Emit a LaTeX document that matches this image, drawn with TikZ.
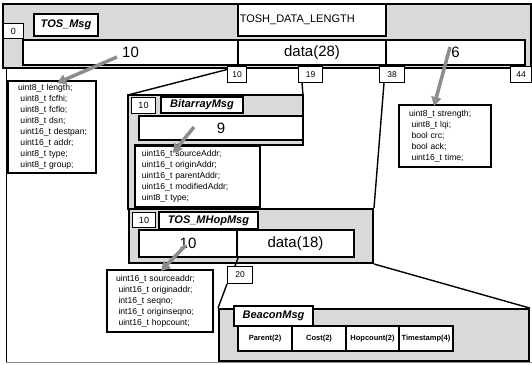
\documentclass[tikz,border=0pt]{standalone}
\usepackage{fontspec}
\setmainfont{Liberation Sans}
\usetikzlibrary{arrows.meta,calc}
\definecolor{fillgrey}{HTML}{D9D9D9}
\definecolor{arrgrey}{HTML}{8C8C8C}
\tikzset{
  bx/.style={draw, fill=white, anchor=north west, inner sep=0pt, line width=1.6pt},
  thinbx/.style={draw, fill=white, anchor=north west, inner sep=0pt, line width=1pt, font=\fontsize{9}{10}\selectfont},
  offbx/.style={thinbx, font=\fontsize{8.5}{10}\selectfont},
  titlebx/.style={bx, line width=2pt, font=\fontsize{11}{12}\selectfont\bfseries\itshape},
  bigbx/.style={bx, line width=2pt, font=\fontsize{15}{17}\selectfont},
  fieldbx/.style={bx, line width=2pt, align=left, font=\fontsize{8.6}{11}\selectfont},
  grp/.style={draw, fill=fillgrey, line width=1.6pt, anchor=north west, inner sep=0pt},
  link/.style={line width=1.4pt},
  arr/.style={draw=arrgrey, line width=3.5pt, -{Triangle[width=10pt,length=9pt]}},
  bfield/.style={bx, line width=2pt, font=\fontsize{7.5}{9}\selectfont\bfseries},
}
\begin{document}
\begin{tikzpicture}[x=1pt,y=-1pt]
\useasboundingbox (0,0) rectangle (532,364);
% outer frame
\coordinate (frTL) at (6,68);
\coordinate (frBL) at (6,362.5);
\coordinate (frBR) at (532,362.5);
\draw[line width=1pt] (frTL) -- (frBL);
\draw[arrgrey, line width=1.5pt] (frBL) -- (frBR);

% TOS_Msg group
\node[grp, minimum width=528, minimum height=64] (tos) at (2,3) {};
\node[bx, font=\fontsize{11}{12}\selectfont, text width=144pt, inner xsep=2pt, align=left, minimum height=32] (tdl) at (237,3) {TOSH\_DATA\_LENGTH};
\node[thinbx, minimum width=20, minimum height=15] (l0) at (3,23) {0};
\node[titlebx, minimum width=64, minimum height=22] (ttos) at (33,13) {TOS\_Msg};
\node[bigbx, minimum width=215, minimum height=25] (r10) at (22,39) {10};
\node[bigbx, minimum width=148, minimum height=25] (r28) at (237,39) {data(28)};
\node[bigbx, minimum width=139, minimum height=25] (r6) at (385,39) {6};

% links to sub-structures
\coordinate (bitTL) at (128,95);
\coordinate (bitTR) at (303,95);
\coordinate (c10) at (229,69);
\draw[link] (c10) -- (bitTL);

% offset labels
\node[offbx, minimum width=19, minimum height=16] (o10) at (227,66) {10};
\node[offbx, minimum width=24, minimum height=16] (o19) at (298,66) {19};
\node[offbx, minimum width=25, minimum height=16] (o38) at (379,66) {38};
\node[offbx, minimum width=21, minimum height=16] (o44) at (510,66) {44};

% field box of TOS_Msg header
\node[fieldbx, text width=74pt, inner xsep=7pt, minimum height=92] (f1) at (7,80) {\hspace*{3pt}uint8\_t length;\\ \hspace*{5.5pt}uint8\_t fcfhi;\\ \hspace*{5.5pt}uint8\_t fcflo;\\ \hspace*{5.5pt}uint8\_t dsn;\\ \hspace*{5.5pt}uint16\_t destpan;\\ \hspace*{5.5pt}uint16\_t addr;\\ \hspace*{5.5pt}uint8\_t type;\\ \hspace*{5.5pt}uint8\_t group;};

% field box of TOS_Msg footer
\node[fieldbx, text width=78pt, inner xsep=7pt, minimum height=62] (f4) at (398,104) {\hspace*{3pt}uint8\_t strength;\\ \hspace*{5.5pt}uint8\_t lqi;\\ \hspace*{5.5pt}bool crc;\\ \hspace*{5.5pt}bool ack;\\ \hspace*{5.5pt}uint16\_t time;};

% BitarrayMsg group
\filldraw[fill=fillgrey, line width=1.6pt] (bitTL) -- (bitTR) -- (303,145) -- (135,145) -- (135,209) -- (128,209) -- cycle;
\draw[link] (bitTR) -- ($(o19.south west)+(4,0)$);
\node[thinbx, minimum width=24, minimum height=16] (b10) at (131,97) {10};
\node[titlebx, minimum width=82, minimum height=16] (tbit) at (160,96) {BitarrayMsg};
\node[bigbx, minimum width=164, minimum height=24] (r9) at (138,115) {9};
\node[fieldbx, line width=1.6pt, text width=111pt, inner xsep=7pt, minimum height=61] (f2) at (134,145) {uint16\_t sourceAddr;\\ uint16\_t originAddr;\\ uint16\_t parentAddr;\\ uint16\_t modifiedAddr;\\ uint8\_t type;};

% TOS_MHopMsg group
\node[grp, line width=2pt, minimum width=244, minimum height=54] (mhop) at (128,208) {};
\draw[link] (mhop.north east) -- ($(o38.south west)+(5,0)$);
\node[thinbx, minimum width=23, minimum height=15] (m10) at (132,212) {10};
\node[titlebx, minimum width=99, minimum height=17] (tmhop) at (158,211) {TOS\_MHopMsg};
\node[bigbx, minimum width=98, minimum height=27] (m10r) at (138,229) {10};
\node[bigbx, minimum width=117, minimum height=27] (m18) at (236,229) {data(18)};

% BeaconMsg group
\node[grp, minimum width=310, minimum height=52] (bcn) at (218,308) {};
\node[offbx, minimum width=25, minimum height=17] (o20) at (227,266) {20};
\draw[link] (m10r.south east) -- ($(o20.north west)+(8,0)$);
\draw[link] (o20.south west) -- (bcn.north west);
\draw[link] (mhop.south east) -- (bcn.north east);
\node[titlebx, minimum width=79, minimum height=20] (tbcn) at (233,305) {BeaconMsg};
\node[bfield, minimum width=54, minimum height=25] (bpar) at (237,325) {Parent(2)};
\node[bfield, minimum width=54, minimum height=25] (bcost) at (291,325) {Cost(2)};
\node[bfield, minimum width=53, minimum height=25] (bhop) at (345,325) {Hopcount(2)};
\node[bfield, minimum width=54, minimum height=25] (bts) at (398,325) {Timestamp(4)};

% field box of TOS_MHopMsg header
\node[fieldbx, text width=90pt, inner xsep=8pt, minimum height=62] (f3) at (106,269) {\hspace*{1pt}uint16\_t sourceaddr;\\ \hspace*{3.5pt}uint16\_t originaddr;\\ \hspace*{3.5pt}int16\_t seqno;\\ \hspace*{3.5pt}int16\_t originseqno;\\ \hspace*{3.5pt}uint16\_t hopcount;};

% grey arrows
\draw[arr] ($(r10.center)+(-13.5,4.5)$) -- ($(f1.north)+(5,3)$);
\draw[arr] ($(r9.center)+(-27,-1)$) -- ($(f2.north)+(-24.5,8)$);
\draw[arr] ($(m10r.center)+(-2,1.5)$) -- ($(f3.north)+(1,2)$);
\draw[arr] ($(r6.center)+(-5.5,-5.5)$) -- ($(f4.north)+(-11,2)$);
\end{tikzpicture}
\end{document}
